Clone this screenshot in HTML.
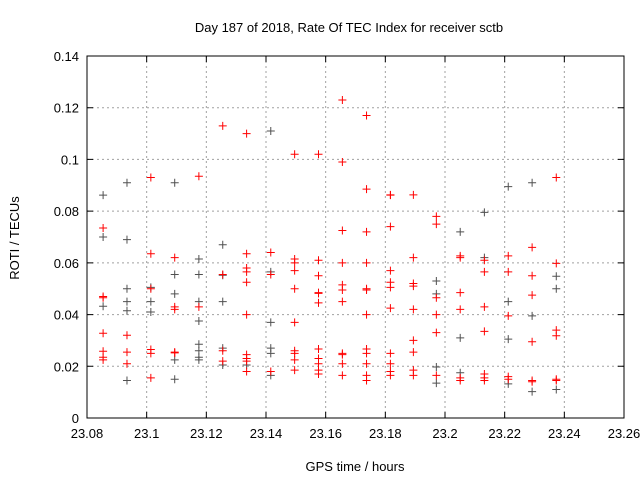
<!DOCTYPE html>
<html><head><meta charset="utf-8"><style>
body{margin:0;background:#fff}
svg{display:block;font-family:"Liberation Sans",sans-serif}
</style></head><body>
<svg id="chart" width="640" height="480" viewBox="0 0 640 480">
<rect width="640" height="480" fill="#fff"/>
<text x="349" y="32" font-size="13" text-anchor="middle">Day 187 of 2018, Rate Of TEC Index for receiver sctb</text>
<g id="grid"></g>
<g id="axes"></g>
<g id="marks"></g>
<text transform="translate(19,238) rotate(-90)" font-size="13" text-anchor="middle">ROTI / TECUs</text>
<text x="355" y="471" font-size="13" text-anchor="middle">GPS time / hours</text>
</svg>
<script>
const xTicks=[23.08,23.1,23.12,23.14,23.16,23.18,23.2,23.22,23.24,23.26];
const xTickLabels=["23.08","23.1","23.12","23.14","23.16","23.18","23.2","23.22","23.24","23.26"];
const yTicks=[0,0.02,0.04,0.06,0.08,0.1,0.12,0.14];
const yTickLabels=["0","0.02","0.04","0.06","0.08","0.1","0.12","0.14"];
const times=[23.0854,23.0934,23.1014,23.1094,23.1175,23.1255,23.1335,23.1416,23.1496,23.1576,23.1656,23.1737,23.1817,23.1894,23.1971,23.2051,23.2132,23.2212,23.2292,23.2373];
const redVals=[
[0.0735,0.047,0.0465,0.0328,0.0258,0.0235,0.0225],
[0.032,0.0255,0.021],
[0.093,0.0635,0.050,0.0265,0.025,0.0155],
[0.062,0.043,0.042,0.0255,0.0252],
[0.0935,0.043],
[0.113,0.0555,0.026,0.022],
[0.110,0.0635,0.058,0.0565,0.0525,0.040,0.0245,0.023,0.022,0.018],
[0.064,0.0555,0.018],
[0.102,0.0615,0.060,0.057,0.050,0.037,0.026,0.025,0.0225,0.0185],
[0.102,0.061,0.055,0.0485,0.0482,0.0445,0.0267,0.023,0.021,0.0185,0.017],
[0.123,0.099,0.0725,0.060,0.0515,0.0495,0.045,0.025,0.0245,0.021,0.0165],
[0.117,0.0885,0.072,0.060,0.050,0.0495,0.040,0.0267,0.025,0.021,0.0165,0.0145],
[0.0863,0.0862,0.074,0.057,0.0525,0.0505,0.0425,0.025,0.021,0.018,0.0165],
[0.0863,0.062,0.052,0.051,0.042,0.030,0.0255,0.0185,0.0165],
[0.078,0.075,0.0465,0.040,0.033,0.0165],
[0.0627,0.062,0.0485,0.042,0.0155,0.0145],
[0.061,0.0565,0.043,0.0335,0.017,0.0155,0.0145],
[0.0627,0.0565,0.0395,0.016,0.015],
[0.066,0.055,0.0475,0.0295,0.0145,0.014],
[0.093,0.0598,0.034,0.0318,0.015,0.0145]
];
const darkVals=[
[0.0862,0.070,0.0432],
[0.091,0.069,0.050,0.045,0.0415,0.0145],
[0.0505,0.045,0.041],
[0.091,0.0555,0.048,0.0225,0.015],
[0.0615,0.0555,0.045,0.0375,0.0285,0.026,0.0235,0.0225],
[0.067,0.0552,0.045,0.027,0.0205],
[0.0205],
[0.111,0.0565,0.037,0.027,0.025,0.0165],
[],[],[],[],[],[],
[0.053,0.048,0.0197,0.0135],
[0.072,0.031,0.0175],
[0.0795,0.062],
[0.0895,0.045,0.0305,0.0132],
[0.091,0.0395,0.0102],
[0.0548,0.050,0.011]
];
const L=87,R=624,T=56,B=418;
const xs=v=>L+(v-23.08)/(0.18)*(R-L);
const ys=v=>B-v/0.14*(B-T);
const NS="http://www.w3.org/2000/svg";
function mk(tag,attrs,parent){const e=document.createElementNS(NS,tag);for(const k in attrs)e.setAttribute(k,attrs[k]);parent.appendChild(e);return e;}
const grid=document.getElementById('grid'),axes=document.getElementById('axes'),marks=document.getElementById('marks');
xTicks.forEach((t,i)=>{const x=xs(t);
 if(i>0&&i<xTicks.length-1){const g=mk('line',{x1:x,x2:x,y1:T,y2:B,stroke:'#a0a0a0','stroke-dasharray':'2,3','stroke-width':1},grid);
 
 }
 const tk=mk('path',{d:`M${x},${B}v-6M${x},${T}v6`,stroke:'#000','stroke-width':1},axes);
 
 
 const lb=mk('text',{x:x,y:B+20,'font-size':13,'text-anchor':'middle'},axes);lb.textContent=xTickLabels[i];
 
 
});
yTicks.forEach((t,i)=>{const y=ys(t);
 if(i>0&&i<yTicks.length-1){const g=mk('line',{x1:L,x2:R,y1:y,y2:y,stroke:'#a0a0a0','stroke-dasharray':'2,3','stroke-width':1},grid);
 
 }
 const tk=mk('path',{d:`M${L},${y}h6M${R},${y}h-6`,stroke:'#000','stroke-width':1},axes);
 
 
 const lb=mk('text',{x:L-8,y:y+5,'font-size':13,'text-anchor':'end'},axes);lb.textContent=yTickLabels[i];
 
 
});
const frame=mk('rect',{x:L,y:T,width:R-L,height:B-T,fill:'none',stroke:'#000','stroke-width':1},axes);


function plus(x,y,col,name){const p=mk('path',{d:`M${x-4},${y}h8M${x},${y-4}v8`,stroke:col,'stroke-width':1},marks);
 
 }
darkVals.forEach((arr,i)=>arr.forEach(v=>plus(xs(times[i]),ys(v),'#505050','dark-point')));
redVals.forEach((arr,i)=>arr.forEach(v=>plus(xs(times[i]),ys(v),'#ff0000','red-point')));
</script>
</body></html>
